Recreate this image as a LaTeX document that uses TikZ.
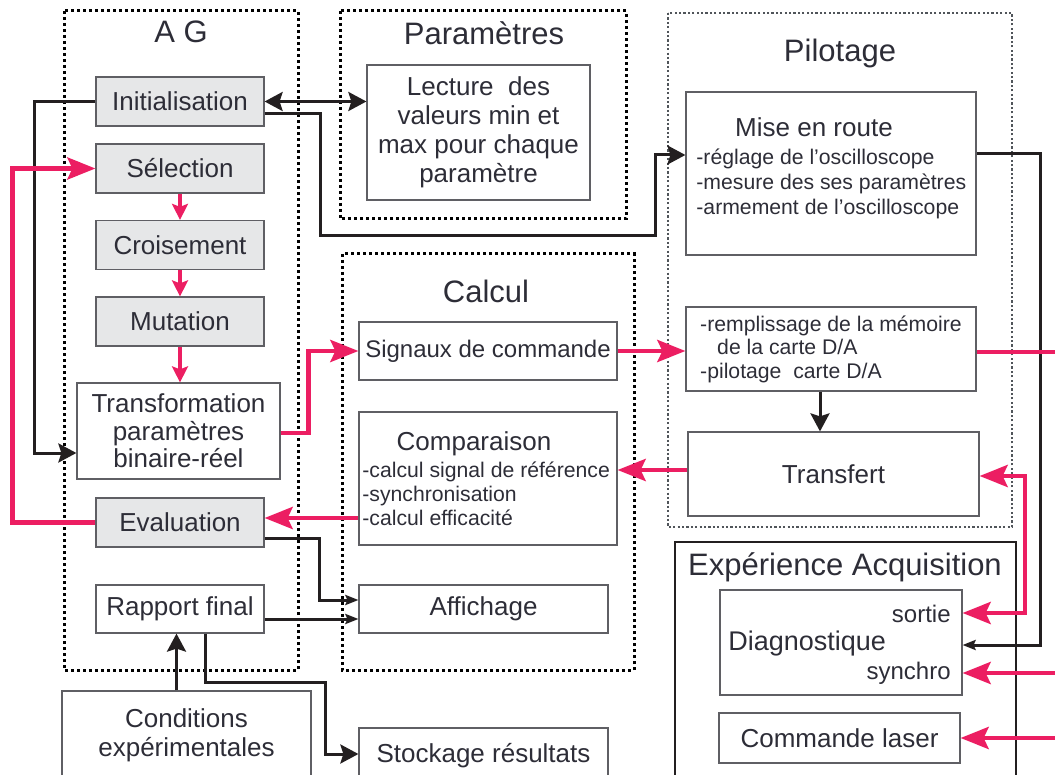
\documentclass[tikz,border=0pt]{standalone}
\usepackage{fontspec}
\setmainfont{Liberation Sans}
\usepackage{tikz}
\usetikzlibrary{arrows.meta,calc,positioning}

\definecolor{ink}{RGB}{45,45,55}
\definecolor{rose}{RGB}{236,30,98}
\definecolor{trait}{RGB}{35,31,32}
\definecolor{cadre}{RGB}{95,95,100}
\definecolor{gris}{RGB}{230,231,232}
\definecolor{pointil}{RGB}{80,85,90}

\tikzset{
  bloc/.style={draw=cadre,line width=0.6pt,text=ink,inner sep=0pt,align=center,
    font=\fontsize{13}{14.5}\selectfont},
  blocga/.style={bloc,fill=gris,minimum width=84pt,minimum height=24.5pt},
  titre/.style={text=ink,inner sep=0pt,anchor=base,font=\fontsize{15.5}{18}\selectfont},
  petit/.style={text=ink,inner sep=0pt,align=left,font=\fontsize{10.6}{12}\selectfont},
  zone/.style={draw=black,line width=1.5pt,dash pattern=on 1.5pt off 1.5pt},
  zonegris/.style={draw=pointil,line width=1.2pt,dash pattern=on 1.1pt off 1.1pt},
  fl/.style={draw=trait,line width=1.5pt,-{Stealth[length=9pt,width=9.5pt,inset=1.5pt]}},
  fldouble/.style={fl,{Stealth[length=9pt,width=9.5pt,inset=1.5pt]}-{Stealth[length=9pt,width=9.5pt,inset=1.5pt]}},
  flfin/.style={draw=trait,line width=1.5pt,-{Stealth[length=6.5pt,width=5pt,inset=1pt]}},
  fr/.style={draw=rose,line width=2.2pt,-{Stealth[length=14pt,width=11pt,inset=2.5pt]}},
  frdouble/.style={fr,{Stealth[length=14pt,width=11pt,inset=2.5pt]}-{Stealth[length=14pt,width=11pt,inset=2.5pt]}},
  frcourt/.style={draw=rose,line width=2.2pt,-{Stealth[length=8pt,width=8pt,inset=1.5pt]}},
}

\begin{document}
\begin{tikzpicture}[x=0.5pt,y=-0.5pt]
\useasboundingbox (0,0) rectangle (1055,775);

\draw[zone] (64,11) rectangle (298,670);
\draw[zone] (340,11) rectangle (626,219);
\draw[zone] (342,254) rectangle (634,670);
\draw[zonegris] (668,13) rectangle (1012,527);
\draw[trait,line width=0.6pt] (675,542) rectangle (1016,800);

\node[titre] (agt) at (181,43) {A G};
\node[titre] (part) at (484,45) {Paramètres};
\node[titre] (calt) at (486,303) {Calcul};
\node[titre] (pilt) at (840,62) {Pilotage};
\node[titre] (expt) at (845,575) {Expérience Acquisition};

% A G
\node[blocga] (init) at (180,101.5) {Initialisation};
\node[blocga] (sel) at (180,168.5) {Sélection};
\node[blocga] (crois) at (180,245) {Croisement};
\node[blocga] (mut) at (180,321.5) {Mutation};
\node[bloc,minimum width=101.5pt,minimum height=48pt,font=\fontsize{13}{13.75}\selectfont] (transf) at (178.5,431)
  {Transformation\\paramètres\\binaire-réel};
\node[blocga] (eval) at (180,522.5) {Evaluation};
\node[bloc,minimum width=84pt,minimum height=24pt] (rapport) at (180,609) {Rapport final};
\node[bloc,minimum width=124.5pt,minimum height=44pt] (cond) at (186.5,735) {Conditions\\expérimentales};

% Parametres, Calcul
\node[bloc,minimum width=111.5pt,minimum height=67.5pt] (lect) at (478.5,132.5)
  {Lecture\ \ des\\valeurs min et\\max pour chaque\\paramètre};
\node[bloc,minimum width=129pt,minimum height=29pt,font=\fontsize{12}{14}\selectfont] (sig) at (488,351) {Signaux de commande};
\node[bloc,minimum width=129pt,minimum height=66.5pt] (comp) at (488,478.5) {};
\node[titre,anchor=center,font=\fontsize{13}{14.5}\selectfont] (compt) at (474,444) {Comparaison};
\node[petit,anchor=west] (comptxt) at (362,494) {-calcul signal de référence\\-synchronisation\\-calcul efficacité};
\node[bloc,minimum width=124.5pt,minimum height=24pt] (aff) at (483.5,609) {Affichage};
\node[bloc,minimum width=124.5pt,minimum height=28pt] (stock) at (483.5,756) {Stockage résultats};

% Pilotage
\node[bloc,minimum width=145pt,minimum height=81.5pt] (mise) at (831,173.5) {};
\node[titre,anchor=center,font=\fontsize{13}{14.5}\selectfont] (miset) at (814,127) {Mise en route};
\node[petit,anchor=west,font=\fontsize{10.6}{12.5}\selectfont] (misetxt) at (696,184)
  {-réglage de l’oscilloscope\\-mesure des ses paramètres\\-armement de l’oscilloscope};
\node[bloc,align=left,minimum width=145pt,minimum height=42pt,font=\fontsize{10.6}{11.8}\selectfont] (remp) at (831,349)
  {-remplissage de la mémoire\\\hspace*{8.5pt}de la carte D/A\\-pilotage\ \ carte D/A};
\node[bloc,minimum width=145.5pt,minimum height=42pt] (trans) at (833.5,474) {Transfert};

% Experience
\node[bloc,minimum width=121pt,minimum height=52.5pt] (diag) at (841,642.5) {};
\node[petit,anchor=east,font=\fontsize{12}{14}\selectfont] (sortie) at (951,614) {sortie};
\node[titre,anchor=west,font=\fontsize{13.5}{15}\selectfont] (diagt) at (728,644) {Diagnostique};
\node[petit,anchor=east,font=\fontsize{12}{14}\selectfont] (synchro) at (951,673) {synchro};
\node[bloc,minimum width=120.5pt,minimum height=25pt] (cmd) at (839.5,738) {Commande laser};

\coordinate (sortD) at (1060,352);
\coordinate (entS) at (1060,673);
\coordinate (entL) at (1060,738);

% liaisons noires
\draw[fl] (init.west) -- ++(-61,0) |- ($(transf.west)+(0,22)$);
\draw[fldouble] (init.east) -- (lect.west |- init.east);
\draw[fl] ($(init.east)+(0,12.5)$) -| (320,236) -| (655,155) -- ($(mise.west)+(0,-18.5)$);
\draw[flfin] ($(mise.east)+(0,-19.5)$) -| (1040,645) -- ($(diag.east)+(0,2.5)$);
\draw[fl] ($(remp.south)+(-11,0)$) -- ($(trans.north)+(-13.5,0)$);
\draw[flfin] ($(eval.east)+(0,15.5)$) -| (319,600) -- ($(aff.west)+(0,-9)$);
\draw[flfin] ($(rapport.east)+(0,10)$) -- ($(aff.west)+(0,10)$);
\draw[fl] ($(rapport.south)+(25,0)$) |- (325,682) |- ($(stock.west)+(0,-2)$);
\draw[fl] ($(cond.north)+(-10,0)$) -- ($(rapport.south)+(-3.5,0)$);

% liaisons roses
\draw[fr] (eval.west) -- ++(-83,0) |- (sel.west);
\draw[frcourt] (sel.south) -- (crois.north);
\draw[frcourt] (crois.south) -- (mut.north);
\draw[frcourt] (mut.south) -- (mut.south |- transf.north);
\draw[fr] ($(transf.east)+(0,2)$) -- ++(28,0) |- (sig.west);
\draw[fr] (sig.east) -- (remp.west |- sig.east);
\draw[fr] ($(trans.west)+(0,-4)$) -- ($(comp.east)+(0,-8.5)$);
\draw[fr] ($(comp.west)+(0,39.5)$) -- ($(eval.east)+(0,-4.5)$);
\draw[rose,line width=2.2pt] ($(remp.east)+(0,3)$) -- (sortD);
\draw[frdouble] ($(trans.east)+(0,2)$) -- (1025,476) -- (1025,613) -- ($(diag.east)+(0,-29.5)$);
\draw[fr] (entS) -- (diag.east |- entS);
\draw[fr] (entL) -- (cmd.east |- entL);
\end{tikzpicture}
\end{document}
